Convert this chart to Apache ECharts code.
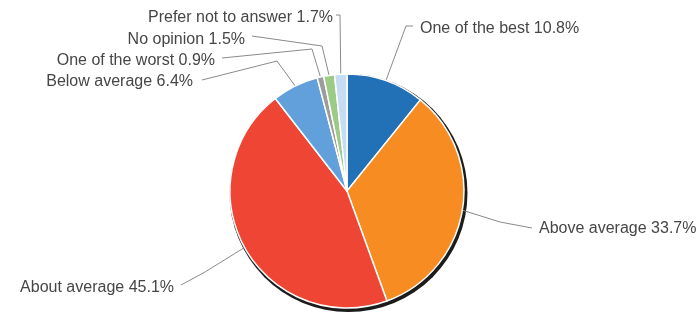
<!DOCTYPE html>
<html>
<head>
<meta charset="utf-8">
<script src="https://cdn.jsdelivr.net/npm/echarts@6/dist/echarts.min.js"></script>
<style>html,body{margin:0;padding:0;background:#fff;}#c{width:700px;height:320px;}</style>
</head>
<body>
<div id="c"></div>
<script>
const categories = ['One of the best', 'Above average', 'About average', 'Below average', 'One of the worst', 'No opinion', 'Prefer not to answer'];
const values = [10.8, 33.7, 45.1, 6.4, 0.9, 1.5, 1.7];
const colors = ['#2270b6', '#f78d22', '#ee4534', '#62a0db', '#9c9c9c', '#9ccb86', '#c6dcf3'];

// label placement (style/layout only)
const labelPlaces = [
  {x: 420, y: 29, align: 'left', bend: [406, 26], end: [413, 26]},
  {x: 539, y: 229, align: 'left', bend: [500, 222], end: [532, 228]},
  {x: 174, y: 288, align: 'right', bend: [205, 272], end: [181, 285]},
  {x: 193, y: 82, align: 'right', bend: [277, 61], end: [202, 80]},
  {x: 215, y: 61, align: 'right', bend: [312, 49], end: [222, 58]},
  {x: 245, y: 40, align: 'right', bend: [322, 46], end: [252, 36]},
  {x: 333, y: 18, align: 'right', bend: [340, 15], end: [336, 15]}
];

const chart = echarts.init(document.getElementById('c'), null, {renderer: 'canvas'});
const center = [347, 191];
chart.setOption({
  animation: false,
  series: [
    {
      type: 'pie',
      silent: true,
      radius: 119,
      center: [center[0] + 1.5, center[1] + 2],
      label: {show: false},
      labelLine: {show: false},
      itemStyle: {color: '#1c1c1c'},
      data: [{value: 1}],
      z: 1
    },
    {
      type: 'pie',
      radius: 117,
      center: center,
      startAngle: 90,
      clockwise: true,
      avoidLabelOverlap: false,
      z: 2,
      itemStyle: {borderColor: '#ffffff', borderWidth: 1.5},
      label: {
        show: true,
        formatter: p => p.name + ' ' + p.value.toFixed(1) + '%',
        fontFamily: 'Liberation Sans',
        fontSize: 16,
        color: '#464646'
      },
      labelLine: {show: true, lineStyle: {color: '#8a8a8a', width: 1}},
      labelLayout: function (params) {
        const lp = labelPlaces[params.dataIndex];
        const start = params.labelLinePoints ? params.labelLinePoints[0] : lp.bend;
        return {
          x: lp.x,
          y: lp.y,
          align: lp.align,
          verticalAlign: 'middle',
          labelLinePoints: [start, lp.bend, lp.end]
        };
      },
      data: categories.map((c, i) => ({name: c, value: values[i], itemStyle: {color: colors[i]}}))
    }
  ]
});
</script>
</body>
</html>
